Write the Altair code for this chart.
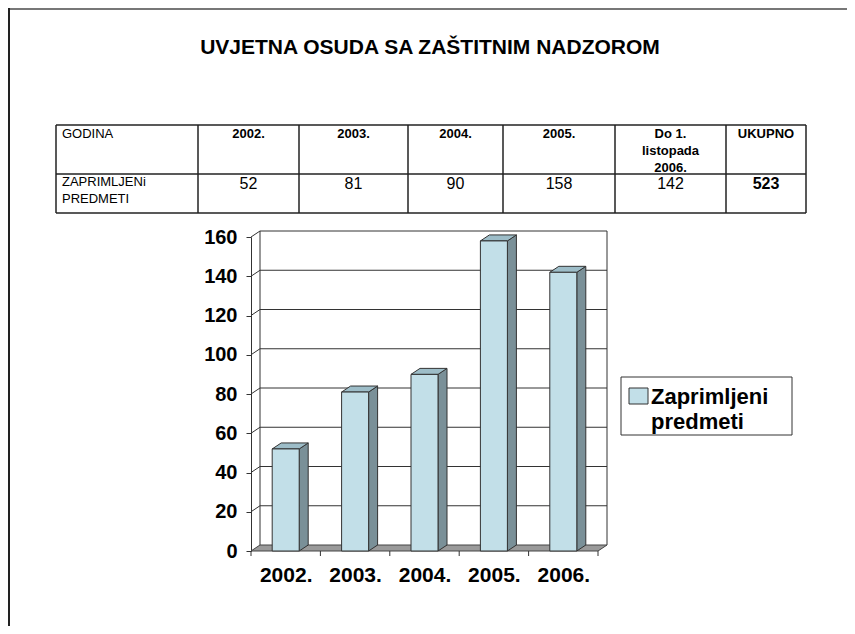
import json
import altair as alt
import pandas as pd

# ---------------- data ----------------
YEARS = ["2002.", "2003.", "2004.", "2005.", "2006."]
VALUES = [52, 81, 90, 158, 142]
Y_TICKS = [0, 20, 40, 60, 80, 100, 120, 140, 160]
TABLE_HEAD = ["GODINA", "2002.", "2003.", "2004.", "2005.", "Do 1.\nlistopada\n2006.", "UKUPNO"]
TABLE_ROW = ["ZAPRIMLJENi\nPREDMETI", "52", "81", "90", "158", "142", "523"]
HEAD_BOLD = [False, True, True, True, True, True, True]
ROW_BOLD = [False, False, False, False, False, False, True]
TITLE = "UVJETNA OSUDA SA ZAŠTITNIM NADZOROM"
LEGEND_LABEL = "Zaprimljeni\npredmeti"

# ---------------- layout / style ----------------
W, H = 839, 618
FONT = "Liberation Sans"
PLOT_X = [243, 590]          # category units 0..N
PLOT_Y = [543, 229]          # value units 0..160
YMAX = 160
N = len(YEARS)
UX = (PLOT_X[1] - PLOT_X[0]) / N
UY = (PLOT_Y[0] - PLOT_Y[1]) / YMAX
DX = 9 / UX                  # depth, x
DY = 6 / UY                  # depth, y
HW = 13.5 / UX               # half bar width
TICK = 5 / UY
COL_EDGES = [48, 190, 291, 400, 495, 607, 718, 798]
ROW_EDGES = [117, 166, 205]

FRONT = "#C2DFE8"
SIDE = "#7A9098"
TOP = "#9DBDC8"
FLOOR = "#9A9A9A"
EDGE = "#333333"

xs = alt.Scale(domain=[0, N], range=PLOT_X, nice=False, zero=False)
ys = alt.Scale(domain=[0, YMAX], range=PLOT_Y, nice=False, zero=False)
tx = alt.Scale(domain=list(range(len(COL_EDGES))), range=COL_EDGES, nice=False, zero=False)
ty = alt.Scale(domain=list(range(len(ROW_EDGES))), range=ROW_EDGES, nice=False, zero=False)

one = pd.DataFrame({"a": [0]})

# ---------------- 3D bar geometry (derived from values) ----------------
front = pd.DataFrame({
    "x": [i + 0.5 - HW for i in range(N)],
    "x2": [i + 0.5 + HW for i in range(N)],
    "y": [0] * N,
    "y2": VALUES,
})
side_rows, top_rows = [], []
for i, v in enumerate(VALUES):
    r, l = i + 0.5 + HW, i + 0.5 - HW
    side_rows += [{"k": i, "x": r, "y": 0, "y2": v}, {"k": i, "x": r + DX, "y": DY, "y2": v + DY}]
    top_rows += [{"k": i, "y": v, "x": l, "x2": r}, {"k": i, "y": v + DY, "x": l + DX, "x2": r + DX}]
side = pd.DataFrame(side_rows)
top = pd.DataFrame(top_rows)
floor = pd.DataFrame([{"y": 0, "x": 0, "x2": N}, {"y": DY, "x": DX, "x2": N + DX}])
grid_rows = []
for v in Y_TICKS[1:]:
    grid_rows += [{"v": v, "o": 0, "x": 0, "y": v}, {"v": v, "o": 1, "x": DX, "y": v + DY},
                  {"v": v, "o": 2, "x": N + DX, "y": v + DY}]
grid = pd.DataFrame(grid_rows)
walls = pd.DataFrame({"x": [DX, N + DX], "y": [DY, DY], "y2": [YMAX + DY, YMAX + DY]})
xticks = pd.DataFrame({"x": list(range(N + 1)), "y": [0] * (N + 1), "y2": [-TICK] * (N + 1)})

grid_layer = alt.Chart(grid).mark_line(color=EDGE, strokeWidth=1).encode(
    x=alt.X("x:Q", scale=xs, axis=None), y=alt.Y("y:Q", scale=ys, axis=None),
    detail="v:N", order="o:Q")
wall_layer = alt.Chart(walls).mark_rule(color=EDGE, strokeWidth=1).encode(
    x=alt.X("x:Q", scale=xs, axis=None), y=alt.Y("y:Q", scale=ys, axis=None), y2="y2:Q")
floor_layer = alt.Chart(floor).mark_area(orient="horizontal", color=FLOOR, stroke="#444444",
                                        strokeWidth=1, opacity=1).encode(
    y=alt.Y("y:Q", scale=ys, axis=None),
    x=alt.X("x:Q", scale=xs, axis=alt.Axis(
        values=[i + 0.5 for i in range(N)],
        labelExpr=f"{json.dumps(YEARS)}[floor(datum.value)]",
        ticks=False, domain=False, grid=False, offset=-(H - PLOT_Y[0]),
        labelPadding=13, labelFont=FONT, labelFontSize=21, labelFontWeight="bold",
        labelColor="black", title=None)),
    x2="x2:Q")
xtick_layer = alt.Chart(xticks).mark_rule(color=EDGE, strokeWidth=1).encode(
    x=alt.X("x:Q", scale=xs, axis=None), y=alt.Y("y:Q", scale=ys, axis=None), y2="y2:Q")
side_layer = alt.Chart(side).mark_area(orient="vertical", color=SIDE, stroke=EDGE,
                                      strokeWidth=1, opacity=1).encode(
    x=alt.X("x:Q", scale=xs, axis=None), y=alt.Y("y:Q", scale=ys, axis=None), y2="y2:Q",
    detail="k:N")
top_layer = alt.Chart(top).mark_area(orient="horizontal", color=TOP, stroke=EDGE,
                                    strokeWidth=1, opacity=1).encode(
    y=alt.Y("y:Q", scale=ys, axis=None), x=alt.X("x:Q", scale=xs, axis=None), x2="x2:Q",
    detail="k:N")
front_layer = alt.Chart(front).mark_rect(color=FRONT, stroke=EDGE, strokeWidth=1).encode(
    x=alt.X("x:Q", scale=xs, axis=None), x2="x2:Q",
    y=alt.Y("y:Q", scale=ys, axis=alt.Axis(
        values=Y_TICKS, offset=-PLOT_X[0], orient="left", grid=False,
        domainColor=EDGE, tickColor=EDGE, tickSize=5, labelPadding=9,
        labelFont=FONT, labelFontSize=20, labelFontWeight="bold", labelColor="black",
        title=None)),
    y2="y2:Q")

# ---------------- table ----------------
ncol = len(TABLE_HEAD)
hlines = pd.DataFrame({"y": list(range(len(ROW_EDGES))), "x": [0] * len(ROW_EDGES),
                       "x2": [ncol] * len(ROW_EDGES)})
vlines = pd.DataFrame({"x": list(range(ncol + 1)), "y": [0] * (ncol + 1), "y2": [2] * (ncol + 1)})
cells = []
for c in range(ncol):
    cells.append({"c": c, "r": 0, "t": TABLE_HEAD[c], "b": HEAD_BOLD[c]})
    cells.append({"c": c, "r": 1, "t": TABLE_ROW[c], "b": ROW_BOLD[c]})
cells = pd.DataFrame(cells)
cells["xc"] = cells["c"] + 0.5

hl_layer = alt.Chart(hlines).mark_rule(color="#222222", strokeWidth=1.5).encode(
    x=alt.X("x:Q", scale=tx, axis=None), x2="x2:Q", y=alt.Y("y:Q", scale=ty, axis=None))
vl_layer = alt.Chart(vlines).mark_rule(color="#222222", strokeWidth=1.5).encode(
    x=alt.X("x:Q", scale=tx, axis=None), y=alt.Y("y:Q", scale=ty, axis=None), y2="y2:Q")


def cell_text(df, bold, size, left, dy, lh):
    mk = alt.Chart(df).mark_text(
        font=FONT, fontSize=size, fontWeight="bold" if bold else "normal", color="black",
        align="left" if left else "center", baseline="top", lineBreak="\n",
        lineHeight=lh, dx=6 if left else 0, dy=dy)
    return mk.encode(
        x=alt.X("c:Q" if left else "xc:Q", scale=tx, axis=None),
        y=alt.Y("r:Q", scale=ty, axis=None), text="t:N")


head = cells[cells.r == 0]
row = cells[cells.r == 1]
t_layers = [
    cell_text(head[(head.c == 0)], False, 13, True, 3, 17),
    cell_text(head[(head.c > 0)], True, 13, False, 3, 17),
    cell_text(row[(row.c == 0)], False, 13, True, 2, 17),
    cell_text(row[(row.c > 0) & (~row.b)], False, 16, False, 2, 18),
    cell_text(row[(row.c > 0) & (row.b)], True, 16, False, 2, 18),
]

# ---------------- title, frame, legend ----------------
title_layer = alt.Chart(one).mark_text(font=FONT, fontSize=21, fontWeight="bold", color="black",
                                       align="center", baseline="middle").encode(
    x=alt.value(422), y=alt.value(40), text=alt.value(TITLE))
frame_top = alt.Chart(one).mark_rule(color="#777777", strokeWidth=2).encode(
    x=alt.value(0), x2=alt.value(W), y=alt.value(1))
frame_left = alt.Chart(one).mark_rule(color="#222222", strokeWidth=2).encode(
    x=alt.value(1), y=alt.value(0), y2=alt.value(H))
leg_box = alt.Chart(one).mark_rect(fill="white", stroke=EDGE, strokeWidth=1).encode(
    x=alt.value(613), x2=alt.value(784), y=alt.value(369), y2=alt.value(427))
leg_sw = alt.Chart(one).mark_rect(fill=FRONT, stroke=EDGE, strokeWidth=1).encode(
    x=alt.value(621), x2=alt.value(640), y=alt.value(380), y2=alt.value(396))
leg_txt = alt.Chart(one).mark_text(font=FONT, fontSize=22, fontWeight="bold", color="black",
                                   align="left", baseline="alphabetic", lineBreak="\n",
                                   lineHeight=25).encode(
    x=alt.value(643), y=alt.value(396), text=alt.value(LEGEND_LABEL))

chart = alt.layer(
    frame_top, frame_left, title_layer, hl_layer, vl_layer, *t_layers,
    grid_layer, wall_layer, floor_layer, xtick_layer, side_layer, top_layer, front_layer,
    leg_box, leg_sw, leg_txt,
).resolve_scale(x="independent", y="independent").properties(
    width=W, height=H, autosize=alt.AutoSizeParams(type="none"), padding=0,
    background="white",
).configure_view(stroke=None)

chart.save("out.html", embed_options={"renderer": "svg", "actions": False})
